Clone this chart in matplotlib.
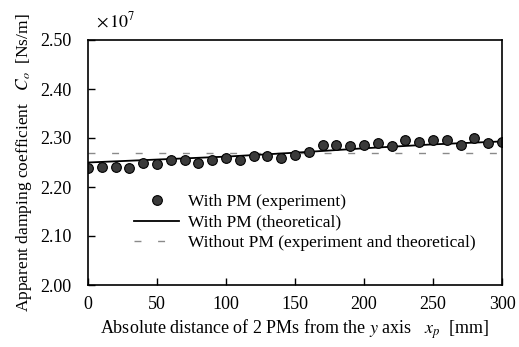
import numpy as np
import matplotlib
matplotlib.use("Agg")
import matplotlib.pyplot as plt

plt.rcParams['font.family'] = ['Liberation Serif', 'DejaVu Serif']
plt.rcParams['mathtext.fontset'] = 'stix'

# distance of the 2 PMs from the y axis [mm]
xp = np.arange(0, 301, 10)
# apparent damping coefficient, with PM (experiment) [x1e7 Ns/m]
c_exp = [2.238, 2.241, 2.241, 2.239, 2.250, 2.247, 2.255, 2.255, 2.250, 2.256,
         2.260, 2.256, 2.263, 2.263, 2.260, 2.265, 2.272, 2.286, 2.286, 2.284,
         2.286, 2.289, 2.284, 2.295, 2.291, 2.296, 2.295, 2.286, 2.299, 2.289,
         2.291]
# with PM (theoretical)
xp_th = [0, 50, 100, 150, 200, 250, 300]
c_th = [2.250, 2.256, 2.262, 2.270, 2.279, 2.287, 2.293]
# without PM (experiment and theoretical)
xp_wo = [0, 300]
c_wo = [2.269, 2.269]

fs = 13

fig = plt.figure(figsize=(5.19, 3.47), dpi=100)
ax = fig.add_axes([88/519, 1 - 285/347, 414/519, 245/347])

ax.plot(xp_wo, c_wo, color='#8a8a8a', lw=1.0, dashes=(5, 12),
        label='Without PM (experiment and theoretical)')
ax.plot(xp_th, c_th, color='black', lw=1.3, label='With PM (theoretical)')
ax.plot(xp, c_exp, 'o', ms=7, mfc='#3a3a3a', mec='black', mew=0.8,
        label='With PM (experiment)')

ax.set_xlim(0, 300)
ax.set_ylim(2.0, 2.5)
ax.set_xticks(np.arange(0, 301, 50))
ax.set_yticks(np.arange(2.0, 2.51, 0.1))
ax.set_yticklabels(['%.2f' % v for v in np.arange(2.0, 2.51, 0.1)])
ax.tick_params(direction='in', length=5, labelsize=fs, width=1)
ax.tick_params(axis='x', pad=8)
ax.tick_params(axis='y', pad=12)
for s in ax.spines.values():
    s.set_linewidth(1.2)

ax.set_xlabel(r'Absolute distance of 2 PMs from the $\mathit{y}$ axis   $x_p$  [mm]',
              fontsize=fs, labelpad=3)
ax.set_ylabel(r'Apparent damping coefficient   $C_o$  [Ns/m]', fontsize=12.5, labelpad=4)
ax.text(0.02, 1.035, r'$\times\,10^7$', transform=ax.transAxes, fontsize=fs,
        va='bottom')

h, l = ax.get_legend_handles_labels()
ax.legend(h[::-1], l[::-1], loc='upper left', bbox_to_anchor=(0.095, 0.4),
          frameon=False, fontsize=12.5, handlelength=2.6, handletextpad=0.5,
          labelspacing=0.25, borderaxespad=0)

fig.savefig('out.png', dpi=100)
